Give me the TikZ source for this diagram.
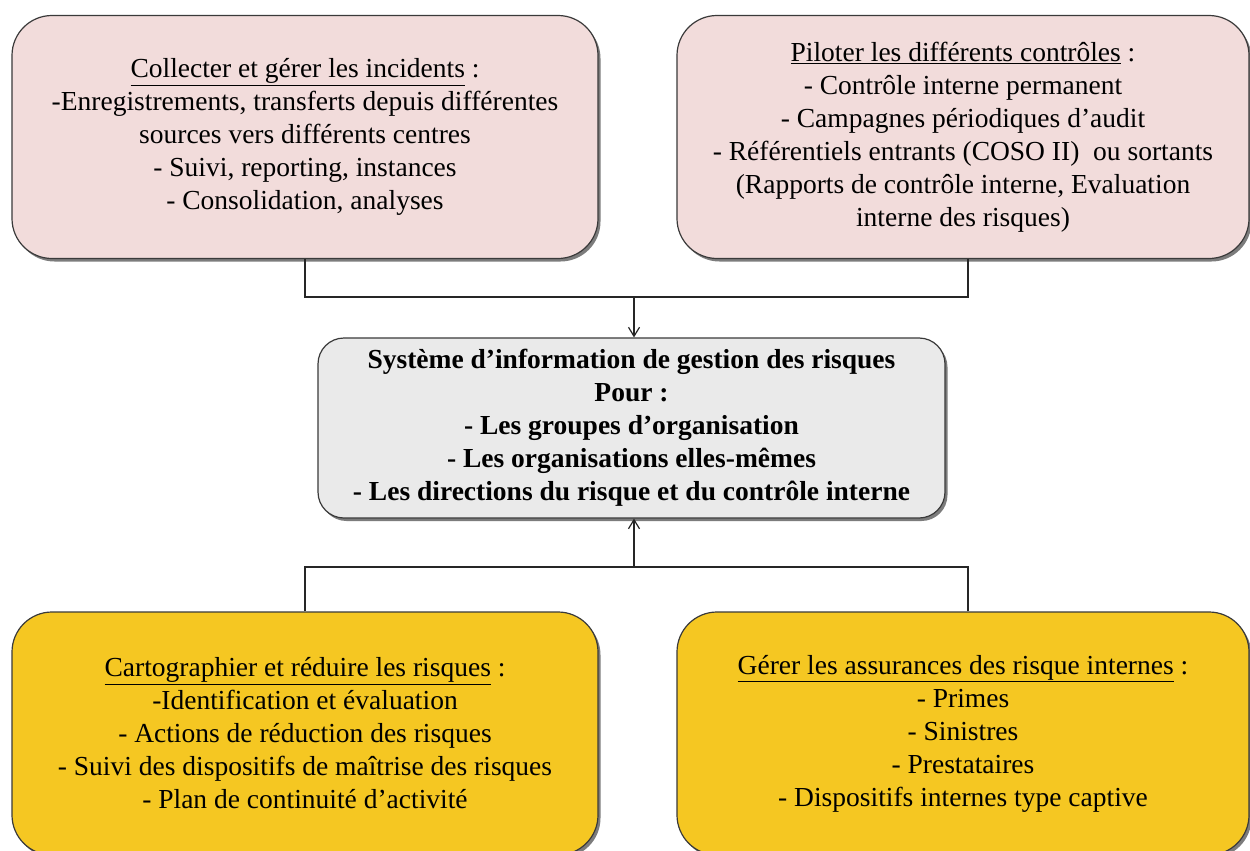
\documentclass[tikz,border=0pt]{standalone}
\usepackage{fontspec}
\setmainfont{Liberation Serif}
\usetikzlibrary{arrows.meta,shadows,calc}
\definecolor{pinkfill}{HTML}{F2DCDB}
\definecolor{goldfill}{HTML}{F5C722}
\definecolor{greyfill}{HTML}{EAEAEA}
\definecolor{edgecol}{HTML}{3A3A3A}
\tikzset{
  boxbase/.style={draw=edgecol, line width=1.2pt, align=center, inner sep=0pt,
    font=\fontsize{27.5}{33}\selectfont,
    drop shadow={shadow xshift=2.5pt, shadow yshift=-3pt, fill=black!60, opacity=0.85}},
  pinkbox/.style={boxbase, fill=pinkfill, rounded corners=40pt},
  goldbox/.style={boxbase, fill=goldfill, rounded corners=40pt},
  centrebox/.style={boxbase, fill=greyfill, rounded corners=26pt,
    font=\fontsize{27.5}{33}\selectfont\bfseries},
  link/.style={draw=black!85, line width=1.3pt},
  arrowlink/.style={link, -{Straight Barb[length=9pt,width=11pt,line width=1.2pt]}}
}
\begin{document}
\begin{tikzpicture}[x=1pt,y=-1pt]
\useasboundingbox (0,0) rectangle (1250,851);
\clip (0,0) rectangle (1250,851);
\fill[white] (0,0) rectangle (1250,851);

\node[pinkbox, minimum width=586pt, minimum height=243pt] (tl) at (305,137)
  {\underline{Collecter et gérer les incidents} :\\
   -Enregistrements, transferts depuis différentes\\
   sources vers différents centres\\
   - Suivi, reporting, instances\\
   - Consolidation, analyses};

\node[pinkbox, minimum width=572pt, minimum height=243pt] (tr) at (963,137)
  {\underline{Piloter les différents contrôles} :\\
   - Contrôle interne permanent\\
   - Campagnes périodiques d’audit\\
   - Référentiels entrants (COSO II)\ \ ou sortants\\
   (Rapports de contrôle interne, Evaluation\\
   interne des risques)};

\node[centrebox, minimum width=627pt, minimum height=180pt] (c) at (631.5,428)
  {Système d’information de gestion des risques\\
   Pour :\\
   - Les groupes d’organisation\\
   - Les organisations elles-mêmes\\
   - Les directions du risque et du contrôle interne};

\node[goldbox, minimum width=586pt, minimum height=243pt] (bl) at (305,733.5)
  {\underline{Cartographier et réduire les risques} :\\
   -Identification et évaluation\\
   - Actions de réduction des risques\\
   - Suivi des dispositifs de maîtrise des risques\\
   - Plan de continuité d’activité};

\node[goldbox, minimum width=572pt, minimum height=243pt] (br) at (963,733.5)
  {\underline{Gérer les assurances des risque internes} :\\
   - Primes\\
   - Sinistres\\
   - Prestataires\\
   - Dispositifs internes type captive};

\coordinate (jtop) at (634,297);
\coordinate (jbot) at (634,567);

\draw[link] (tl.south) |- (jtop);
\draw[link] ([xshift=5pt]tr.south) |- (jtop);
\draw[arrowlink] (jtop) -- (c.north -| jtop);

\draw[link] (bl.north) |- (jbot);
\draw[link] ([xshift=5pt]br.north) |- (jbot);
\draw[arrowlink] (jbot) -- (c.south -| jbot);
\end{tikzpicture}
\end{document}
